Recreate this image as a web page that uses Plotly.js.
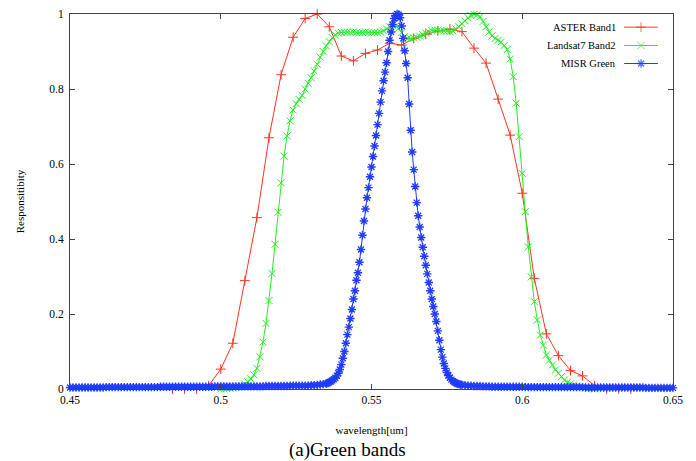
<!DOCTYPE html>
<html>
<head>
<meta charset="utf-8">
<script src="https://cdn.plot.ly/plotly-3.0.1.min.js"></script>
<style>html,body{margin:0;padding:0;background:#fff;}#chart{width:696px;height:461px;}</style>
</head>
<body>
<div id="chart"></div>
<script>
// ---------------- DATA ----------------
const seriesNames = ["ASTER Band1", "Landsat7 Band2", "MISR Green"];

// ASTER Band1 (sampled about every 4 nm)
const asterX = [0.484,0.488,0.492,0.496,0.500,0.504,0.508,0.512,0.516,0.520,0.524,0.528,0.532,0.536,0.540,0.544,0.548,0.552,0.556,0.560,0.564,0.568,0.572,0.576,0.580,0.584,0.588,0.592,0.596,0.600,0.604,0.608,0.612,0.616,0.620,0.624,0.628,0.632,0.636];
const asterY = [0,0,0,0.009,0.053,0.122,0.289,0.457,0.670,0.838,0.938,0.988,1.000,0.966,0.888,0.875,0.895,0.904,0.922,0.917,0.935,0.946,0.955,0.960,0.953,0.909,0.869,0.773,0.677,0.522,0.295,0.147,0.089,0.049,0.035,0.009,0,0,0];

// Landsat7 Band2 (1 nm grid starting at 0.500 um)
const landsatStart = 0.500, landsatStep = 0.001;
const landsatY = [
 0,0,0.001,0.002,0.003,0.004,0.006,0.009,0.013,0.019,
 0.027,0.038,0.055,0.086,0.125,0.175,0.236,0.308,0.386,0.471,
 0.550,0.621,0.675,0.715,0.744,0.761,0.772,0.783,0.800,0.815,
 0.830,0.848,0.866,0.885,0.900,0.915,0.926,0.937,0.944,0.949,
 0.951,0.952,0.952,0.951,0.952,0.951,0.950,0.951,0.952,0.951,
 0.950,0.951,0.950,0.952,0.955,0.960,0.966,0.970,0.968,0.962,
 0.950,0.940,0.935,0.934,0.936,0.938,0.941,0.945,0.949,0.953,
 0.956,0.957,0.957,0.956,0.955,0.954,0.953,0.955,0.960,0.966,
 0.974,0.982,0.990,0.996,0.999,0.998,0.993,0.980,0.966,0.952,
 0.942,0.935,0.930,0.925,0.916,0.905,0.880,0.833,0.762,0.673,
 0.575,0.473,0.379,0.299,0.233,0.184,0.144,0.117,0.091,0.077,
 0.064,0.051,0.042,0.033,0.024,0.018,0.014,0.011,0.008,0.006,
 0.004,0.003,0.002,0.001,0
];

// MISR Green: left tail (1 nm from 0.450), core (0.5 nm from 0.535), right tail (1 nm from 0.581)
const misrLeftStart = 0.450, misrLeftStep = 0.001;
const misrLeftY = [
 0.004,0.004,0.004,0.004,0.004,0.004,0.004,0.004,0.004,0.004,
 0.004,0.004,0.005,0.005,0.005,0.005,0.005,0.005,0.005,0.005,
 0.005,0.005,0.005,0.005,0.005,0.005,0.005,0.005,0.005,0.005,
 0.006,0.006,0.006,0.006,0.006,0.006,0.006,0.006,0.006,0.006,
 0.006,0.006,0.006,0.006,0.006,0.006,0.006,0.006,0.007,0.007,
 0.007,0.007,0.007,0.007,0.007,0.007,0.007,0.007,0.007,0.007,
 0.007,0.007,0.007,0.007,0.007,0.008,0.008,0.008,0.008,0.008,
 0.008,0.008,0.008,0.009,0.009,0.009,0.009,0.009,0.009,0.009,
 0.010,0.010,0.011,0.012,0.013
];
const misrCoreStart = 0.535, misrCoreStep = 0.0005;
const misrCoreY = [
 0.014,0.016,0.018,0.020,0.023,0.026,0.030,0.035,0.042,0.052,
 0.065,0.082,0.100,0.122,0.145,0.165,0.188,0.212,0.240,0.262,
 0.290,0.310,0.338,0.372,0.410,0.448,0.480,0.510,0.537,0.566,
 0.592,0.620,0.648,0.676,0.705,0.735,0.765,0.795,0.822,0.845,
 0.870,0.900,0.930,0.952,0.972,0.988,0.996,1.000,0.998,0.990,
 0.968,0.935,0.902,0.868,0.830,0.760,0.690,0.632,0.585,0.540,
 0.497,0.462,0.432,0.404,0.378,0.354,0.330,0.307,0.284,0.262,
 0.240,0.220,0.200,0.180,0.155,0.130,0.105,0.085,0.068,0.055,
 0.044,0.036,0.030,0.025,0.021,0.018,0.016,0.014,0.013,0.012,
 0.011
];
const misrRightStart = 0.581, misrRightStep = 0.001;
const misrRightY = [
 0.010,0.009,0.009,0.008,0.008,0.008,0.007,0.007,0.007,0.006,
 0.006,0.006,0.006,0.006,0.006,0.006,0.006,0.006,0.006,0.006,
 0.005,0.005,0.005,0.005,0.005,0.005,0.005,0.005,0.005,0.005,
 0.005,0.005,0.005,0.005,0.005,0.005,0.005,0.005,0.005,0.005,
 0.004,0.004,0.004,0.004,0.004,0.004,0.004,0.004,0.004,0.004,
 0.004,0.004,0.004,0.004,0.004,0.004,0.004,0.004,0.004,0.004,
 0.003,0.003,0.003,0.003,0.003,0.003,0.003,0.003,0.003,0.003
];

const xTickVals = [0.45, 0.50, 0.55, 0.60, 0.65];
const yTickVals = [0, 0.2, 0.4, 0.6, 0.8, 1];
const xTitle = "wavelength[um]";
const yTitle = "Responsitibity";
const caption = "(a)Green bands";

// ---------------- BUILD ----------------
const SERIF = "'Liberation Serif', 'Times New Roman', Times, 'DejaVu Serif', serif";

function grid(start, step, n) {
  const out = [];
  for (let i = 0; i < n; i++) out.push(+(start + i * step).toFixed(4));
  return out;
}
const landsatX = grid(landsatStart, landsatStep, landsatY.length);
const misrX = grid(misrLeftStart, misrLeftStep, misrLeftY.length)
  .concat(grid(misrCoreStart, misrCoreStep, misrCoreY.length))
  .concat(grid(misrRightStart, misrRightStep, misrRightY.length));
const misrY = misrLeftY.concat(misrCoreY).concat(misrRightY);

const colors = ["#ff3322", "#22ee22", "#1f3cff"];
const symbols = ["cross-thin-open", "x-thin-open", "asterisk-open"];
const sizes = [7, 7, 7];
const mlw = [1, 1, 1.3];

const dataX = [asterX, landsatX, misrX];
const dataY = [asterY, landsatY, misrY];

const traces = [];
for (let i = 0; i < 3; i++) {
  traces.push({
    type: "scatter", mode: "lines+markers",
    x: dataX[i], y: dataY[i], name: seriesNames[i],
    line: {color: colors[i], width: 1},
    marker: {symbol: symbols[i], size: sizes[i], color: colors[i], line: {color: colors[i], width: mlw[i]}},
    cliponaxis: false, showlegend: false, hoverinfo: "x+y"
  });
}

// gnuplot-style key (text left, sample right) drawn on an overlay 0..1 axis
const keyRowsY = [0.965, 0.916, 0.868];
const keyX0 = 0.919, keyX1 = 0.975;
const annotations = [];
for (let i = 0; i < 3; i++) {
  traces.push({
    type: "scatter", mode: "lines+markers", xaxis: "x2", yaxis: "y2",
    x: [keyX0, (keyX0 + keyX1) / 2, keyX1], y: [keyRowsY[i], keyRowsY[i], keyRowsY[i]],
    line: {color: colors[i], width: 1},
    marker: {symbol: symbols[i], size: [0, sizes[i], 0], color: colors[i], line: {color: colors[i], width: mlw[i]}},
    showlegend: false, hoverinfo: "skip", cliponaxis: false
  });
  annotations.push({
    xref: "paper", yref: "paper", x: 0.909, y: keyRowsY[i],
    xanchor: "right", yanchor: "middle", showarrow: false,
    text: seriesNames[i], font: {family: SERIF, size: 10.5, color: "#000"}
  });
}
annotations.push({
  xref: "paper", yref: "paper", x: 0.461, y: -0.163, xanchor: "center", yanchor: "middle",
  showarrow: false, text: caption, font: {family: SERIF, size: 19, color: "#000"}
});

const axisCommon = {
  showline: true, linecolor: "#444", linewidth: 1, mirror: "ticks",
  ticks: "inside", ticklen: 5, tickwidth: 1, tickcolor: "#444",
  showgrid: false, zeroline: false,
  tickfont: {family: SERIF, size: 11.5, color: "#000"}
};

const layout = {
  width: 696, height: 461,
  margin: {l: 70, r: 23, t: 14, b: 72},
  paper_bgcolor: "#fff", plot_bgcolor: "#fff",
  font: {family: SERIF, color: "#000"},
  showlegend: false,
  xaxis: Object.assign({}, axisCommon, {
    range: [0.45, 0.65], tickvals: xTickVals, ticktext: xTickVals.map(v => String(v)),
    automargin: false,
    title: {text: xTitle, font: {family: SERIF, size: 11, color: "#000"}, standoff: 21}
  }),
  yaxis: Object.assign({}, axisCommon, {
    range: [0, 1], tickvals: yTickVals, ticktext: yTickVals.map(v => String(v)),
    automargin: false, ticklabelstandoff: 3,
    title: {text: yTitle, font: {family: SERIF, size: 11, color: "#000"}, standoff: 22}
  }),
  xaxis2: {overlaying: "x", anchor: "y2", range: [0, 1], visible: false, fixedrange: true},
  yaxis2: {overlaying: "y", anchor: "x2", range: [0, 1], visible: false, fixedrange: true},
  annotations: annotations
};

Plotly.newPlot("chart", traces, layout, {displayModeBar: false, staticPlot: true});
</script>
</body>
</html>
